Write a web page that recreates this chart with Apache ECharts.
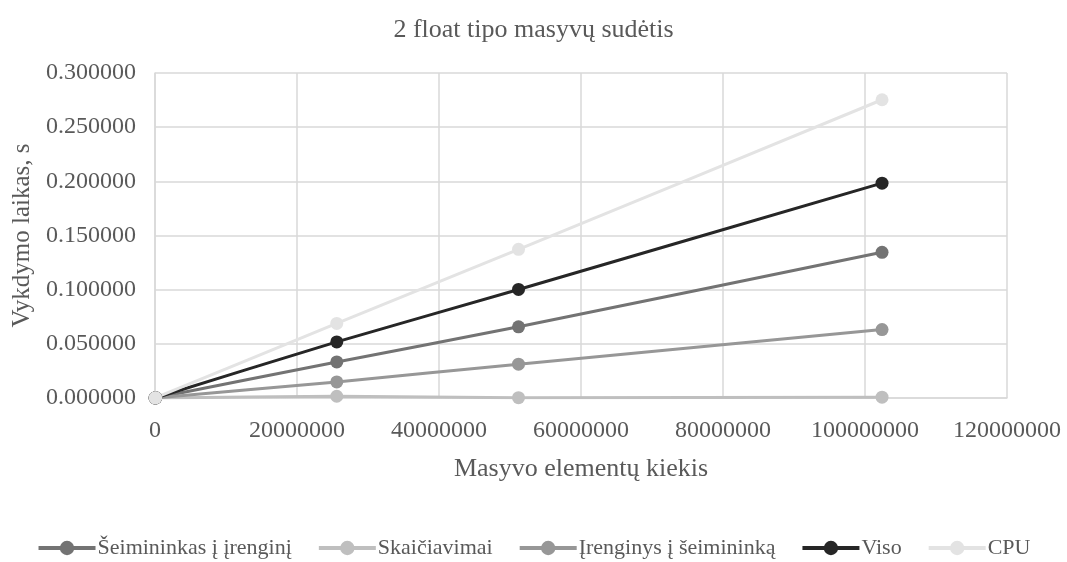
<!DOCTYPE html>
<html>
<head>
<meta charset="utf-8">
<script src="https://cdn.jsdelivr.net/npm/echarts@6/dist/echarts.min.js"></script>
<style>html,body{margin:0;padding:0;background:#fff}#c{width:1067px;height:562px}</style>
</head>
<body>
<div id="c"></div>
<script>
const sizes = [10240, 102400, 25600000, 51200000, 102400000];
const seriesNames = ['Šeimininkas į įrenginį', 'Skaičiavimai', 'Įrenginys į šeimininką', 'Viso', 'CPU'];
const hostToDevice = [0.00002, 0.00015, 0.0333, 0.0657, 0.1345];
const compute = [0.00001, 0.00003, 0.0016, 0.0003, 0.0008];
const deviceToHost = [0.00001, 0.00008, 0.0148, 0.0312, 0.0632];
const total = [0.00004, 0.00026, 0.0518, 0.1002, 0.1983];
const cpu = [0.00003, 0.00027, 0.0688, 0.1372, 0.2753];
const colors = ['#737373', '#bfbfbf', '#979797', '#262626', '#e3e3e3'];
const allValues = [hostToDevice, compute, deviceToHost, total, cpu];

const font = 'Liberation Serif';
const txt = '#595959';
const chart = echarts.init(document.getElementById('c'));
chart.setOption({
  animation: false,
  title: {
    text: '2 float tipo masyvų sudėtis',
    left: 'center', top: 12,
    textStyle: {fontFamily: font, fontSize: 26, fontWeight: 'normal', color: txt}
  },
  grid: {left: 155, right: 60, top: 73, bottom: 164},
  legend: {
    top: 532, left: 'center',
    itemWidth: 57, itemHeight: 18, itemGap: 25,
    lineStyle: {width: 4},
    textStyle: {fontFamily: font, fontSize: 22, color: txt, padding: [0, 0, 0, -3]},
    data: seriesNames
  },
  xAxis: {
    type: 'value', min: 0, max: 120000000, interval: 20000000,
    name: 'Masyvo elementų kiekis', nameLocation: 'middle', nameGap: 58,
    nameTextStyle: {fontFamily: font, fontSize: 26, color: txt},
    axisLine: {show: true, lineStyle: {color: '#d9d9d9', width: 1.5}},
    axisTick: {show: false},
    axisLabel: {fontFamily: font, fontSize: 24, color: txt, margin: 21, formatter: v => String(v)},
    splitLine: {show: true, lineStyle: {color: '#d9d9d9', width: 1.5}}
  },
  yAxis: {
    type: 'value', min: 0, max: 0.3, interval: 0.05,
    name: 'Vykdymo laikas, s', nameLocation: 'middle', nameGap: 120,
    nameTextStyle: {fontFamily: font, fontSize: 25, color: txt},
    axisLine: {show: true, lineStyle: {color: '#d9d9d9', width: 1.5}},
    axisTick: {show: false},
    axisLabel: {fontFamily: font, fontSize: 24, color: txt, margin: 19, formatter: v => v.toFixed(6)},
    splitLine: {show: true, lineStyle: {color: '#d9d9d9', width: 1.5}}
  },
  series: seriesNames.map((n, i) => ({
    name: n, type: 'line',
    data: sizes.map((s, j) => [s, allValues[i][j]]),
    smooth: 0.15,
    symbol: 'circle', symbolSize: 13,
    lineStyle: {color: colors[i], width: 3},
    itemStyle: {color: colors[i]}
  }))
});
</script>
</body>
</html>
